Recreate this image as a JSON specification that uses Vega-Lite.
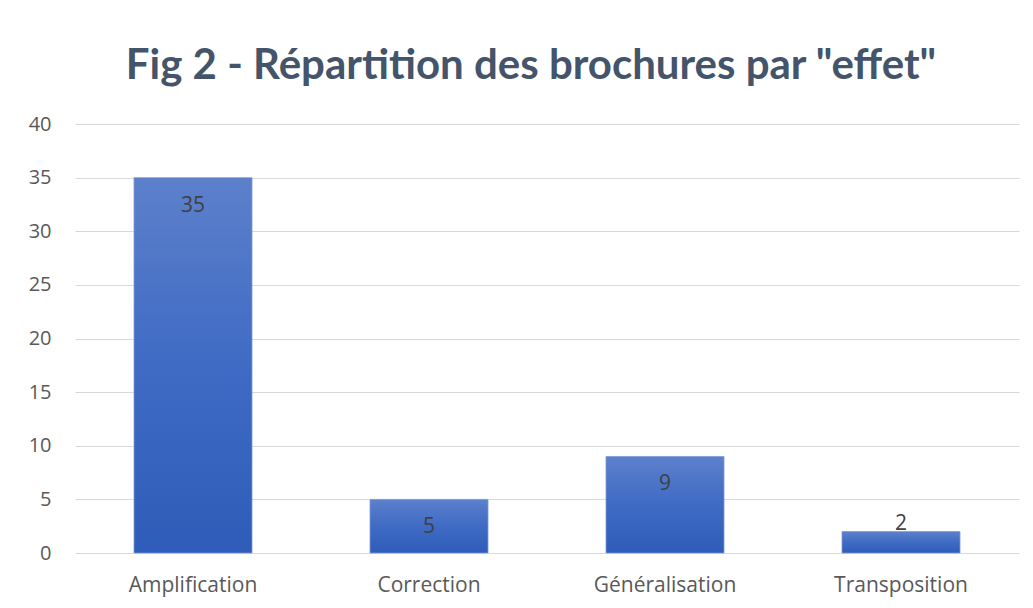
{
  "$schema": "https://vega.github.io/schema/vega-lite/v6.json",
  "width": 944,
  "height": 429,
  "autosize": {"type": "none"},
  "padding": {"left": 75, "top": 124, "right": 14, "bottom": 55},
  "background": "white",
  "title": {
    "text": "Fig 2 - Répartition  des brochures  par \"effet\"",
    "font": "Lato",
    "fontSize": 42,
    "fontWeight": "bold",
    "color": "#44546A",
    "anchor": "middle",
    "offset": 26,
    "dx": -16
  },
  "data": {
    "values": [
      {"effet": "Amplification", "n": 35},
      {"effet": "Correction", "n": 5},
      {"effet": "Généralisation", "n": 9},
      {"effet": "Transposition", "n": 2}
    ]
  },
  "encoding": {
    "x": {
      "field": "effet",
      "type": "nominal",
      "sort": null,
      "scale": {"paddingInner": 0.5, "paddingOuter": 0.25},
      "axis": {
        "title": null,
        "labelAngle": 0,
        "labelFont": "Open Sans",
        "labelFontSize": 21,
        "labelColor": "#595959",
        "labelPadding": 21,
        "ticks": false,
        "domain": false,
        "grid": false
      }
    },
    "y": {
      "field": "n",
      "type": "quantitative",
      "scale": {"domain": [0, 40]},
      "axis": {
        "title": null,
        "values": [0, 5, 10, 15, 20, 25, 30, 35, 40],
        "labelFont": "Open Sans",
        "labelFontSize": 20,
        "labelColor": "#595959",
        "labelPadding": 24,
        "ticks": false,
        "domain": false,
        "gridColor": "#D9D9D9",
        "gridWidth": 1.2
      }
    }
  },
  "layer": [
    {
      "mark": {
        "type": "bar",
        "stroke": "#7E9BD6",
        "strokeWidth": 0.8,
        "color": {
          "gradient": "linear",
          "x1": 0, "y1": 0, "x2": 0, "y2": 1,
          "stops": [
            {"offset": 0, "color": "#5C80CB"},
            {"offset": 0.5, "color": "#3F6BC4"},
            {"offset": 1, "color": "#2E5CB8"}
          ]
        }
      }
    },
    {
      "transform": [{"filter": "datum.n >= 5"}],
      "mark": {"type": "text", "baseline": "middle", "dy": 28, "font": "Open Sans", "fontSize": 21, "color": "#404040"},
      "encoding": {"text": {"field": "n", "type": "quantitative"}}
    },
    {
      "transform": [{"filter": "datum.n < 5"}],
      "mark": {"type": "text", "baseline": "middle", "dy": -8, "font": "Open Sans", "fontSize": 21, "color": "#404040"},
      "encoding": {"text": {"field": "n", "type": "quantitative"}}
    }
  ],
  "config": {"view": {"stroke": null}}
}
